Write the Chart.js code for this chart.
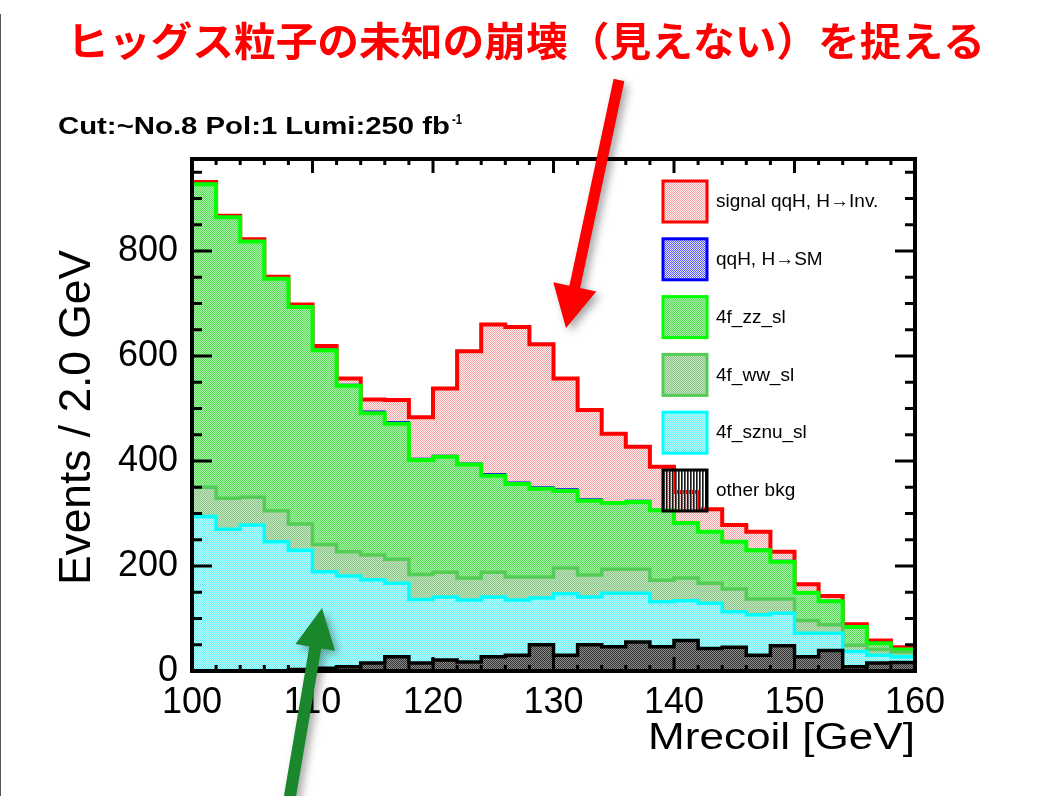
<!DOCTYPE html>
<html>
<head>
<meta charset="utf-8">
<title>Mrecoil</title>
<script src="https://cdn.jsdelivr.net/npm/chart.js@4/dist/chart.umd.min.js"></script>
<style>
  html, body { margin: 0; padding: 0; background: #fff; }
  #wrap { position: relative; width: 1046px; height: 796px; overflow: hidden; }
  #edge { position: absolute; left: 0; top: 14px; width: 1px; height: 782px; background: #555; }
</style>
</head>
<body>
<div id="wrap">
  <canvas id="recoilPlot" width="1046" height="796"></canvas>
  <div id="edge"></div>
</div>
<script>
// bin edges of the recoil mass histogram, 2 GeV per bin
const binEdges = [100, 102, 104, 106, 108, 110, 112, 114, 116, 118, 120, 122, 124, 126, 128, 130,
  132, 134, 136, 138, 140, 142, 144, 146, 148, 150, 152, 154, 156, 158, 160];

// events per bin, one array per sample (stacked bottom to top: other, sznu, ww, zz, SM, signal)
const otherBkg = [0, 0, 0, 0, 3, 5, 8, 15, 27, 15, 21, 17, 27, 30, 50, 30, 50, 46, 55, 46, 58, 43, 45, 30, 48, 27, 39, 8, 15, 16];
const sznuSl = [294, 270, 278, 246, 227, 184, 173, 159, 140, 121, 120, 118, 114, 105, 89, 117, 91, 102, 93, 86, 76, 86, 68, 77, 62, 45, 33, 29, 15, 11];
const wwSl = [56, 59, 53, 59, 50, 52, 46, 47, 46, 48, 47, 42, 47, 44, 40, 49, 42, 46, 46, 41, 43, 38, 43, 30, 27, 24, 16, 12, 11, 9];
const zzSl = [577, 535, 487, 442, 413, 370, 316, 270, 258, 218, 220, 216, 184, 177, 168, 147, 141, 126, 128, 133, 105, 98, 90, 93, 71, 53, 45, 35, 12, 5];
const higgsSM = [1, 1, 1, 1, 1, 1, 2, 3, 3, 2, 2, 2, 3, 3, 3, 3, 3, 2, 2, 1, 1, 1, 1, 1, 2, 1, 1, 1, 1, 1];
const signalInv = [3, 2, 3, 3, 4, 7, 12, 23, 42, 79, 128, 214, 285, 296, 272, 211, 170, 130, 103, 82, 58, 42, 31, 34, 17, 15, 9, 4, 4, 3];

const xTickValues = [100, 110, 120, 130, 140, 150, 160];
const yTickValues = [0, 200, 400, 600, 800];

const FONT = '"Liberation Sans", Arial, Helvetica, sans-serif';

const canvas = document.getElementById('recoilPlot');
const ctx = canvas.getContext('2d');

// pixel tiles to mimic ROOT's dotted fill styles: 'a' = ink, 'b' = paper, 'n' = see-through
const makePattern = (ink, paper, layout) => {
  const n = Math.round(Math.sqrt(layout.length));
  const c = document.createElement('canvas');
  c.width = c.height = n;
  const g = c.getContext('2d');
  layout.split('').forEach((ch, k) => {
    const col = ch === 'a' ? ink : ch === 'b' ? paper : null;
    if (!col) return;
    g.fillStyle = col;
    g.fillRect(k % n, Math.floor(k / n), 1, 1);
  });
  return ctx.createPattern(c, 'repeat');
};

const CHECK = 'abba';
const fills = {
  signal: makePattern('#f7a2a2', '#fff0f0', CHECK),
  sm: makePattern('#5a5aff', '#e4e4ff', CHECK),
  zz: makePattern('#5ad85a', '#aaf4aa', CHECK),
  ww: makePattern('#88c488', '#c6e6c2', CHECK),
  sznu: makePattern('#64f0f0', '#c4fdfd', CHECK),
  other: makePattern('#303030', '#8e8e8e', CHECK)
};
// the legend swatch of "other bkg" lets the histogram underneath show through
const otherSwatch = makePattern('#181818', '#6a6a6a', 'abnabnabn');

// histogram as a step line: the value of bin i holds from edge i to edge i+1
const steps = (values) => binEdges.map((x, i) => ({ x: x, y: values[Math.min(i, values.length - 1)] }));

const samples = [
  { label: 'other bkg', values: otherBkg, line: '#000000', width: 3.5, fill: fills.other, swatch: otherSwatch },
  { label: '4f_sznu_sl', values: sznuSl, line: '#00ffff', width: 3.5, fill: fills.sznu },
  { label: '4f_ww_sl', values: wwSl, line: '#55cc55', width: 3.5, fill: fills.ww },
  { label: '4f_zz_sl', values: zzSl, line: '#00ff00', width: 4, fill: fills.zz },
  { label: 'qqH, H\u2192SM', values: higgsSM, line: '#0000ff', width: 2, fill: fills.sm },
  { label: 'signal qqH, H\u2192Inv.', values: signalInv, line: '#ff0000', width: 4, fill: fills.signal }
];

function stretchText(c, text, x, y, font, width, align) {
  c.save();
  c.font = font;
  const w = c.measureText(text).width;
  c.translate(x, y);
  c.scale(width ? width / w : 1, 1);
  c.textAlign = align || 'left';
  c.fillText(text, 0, 0);
  c.restore();
}

function drawArrow(c, x0, y0, x1, y1, shaft, headW, headL, color) {
  const dx = x1 - x0, dy = y1 - y0, L = Math.hypot(dx, dy);
  const ux = dx / L, uy = dy / L, nx = -uy, ny = ux;
  const bx = x1 - ux * headL, by = y1 - uy * headL;
  c.save();
  c.shadowColor = 'rgba(0,0,0,0.35)';
  c.shadowBlur = 8;
  c.shadowOffsetX = 4;
  c.shadowOffsetY = 4;
  c.fillStyle = color;
  c.beginPath();
  c.moveTo(x0 + nx * shaft / 2, y0 + ny * shaft / 2);
  c.lineTo(bx + nx * shaft / 2, by + ny * shaft / 2);
  c.lineTo(bx + nx * headW / 2, by + ny * headW / 2);
  c.lineTo(x1, y1);
  c.lineTo(bx - nx * headW / 2, by - ny * headW / 2);
  c.lineTo(bx - nx * shaft / 2, by - ny * shaft / 2);
  c.lineTo(x0 - nx * shaft / 2, y0 - ny * shaft / 2);
  c.closePath();
  c.fill();
  c.restore();
}

const rootFrame = {
  id: 'rootFrame',
  afterDatasetsDraw(chart) {
    const c = chart.ctx, a = chart.chartArea;
    const xs = chart.scales.x, ys = chart.scales.y;

    // legend inside the frame, top entry first
    const legendOrder = samples.slice().reverse();
    legendOrder.forEach((s, i) => {
      const top = 181 + i * 57.8;
      c.save();
      c.fillStyle = s.swatch || s.fill;
      c.fillRect(663, top, 44, 41);
      c.lineWidth = 3;
      c.strokeStyle = s.line;
      c.strokeRect(663, top, 44, 41);
      c.fillStyle = '#000';
      c.font = '19px ' + FONT;
      c.textBaseline = 'middle';
      c.fillText(s.label, 716, top + 21);
      c.restore();
    });

    // frame and inward ticks on all four sides
    c.save();
    c.strokeStyle = '#000';
    c.lineWidth = 3;
    c.beginPath();
    for (let v = 100; v <= 160; v += 2) {
      const px = xs.getPixelForValue(v);
      const len = v % 10 === 0 ? 14 : 6;
      c.moveTo(px, a.bottom); c.lineTo(px, a.bottom - len);
      c.moveTo(px, a.top); c.lineTo(px, a.top + len);
    }
    for (let v = 0; v <= 975; v += 50) {
      const py = ys.getPixelForValue(v);
      const len = v % 200 === 0 ? 20 : 10;
      c.moveTo(a.left, py); c.lineTo(a.left + len, py);
      c.moveTo(a.right, py); c.lineTo(a.right - len, py);
    }
    c.stroke();
    c.lineWidth = 4;
    c.strokeRect(a.left, a.top, a.right - a.left, a.bottom - a.top);
    c.restore();
  },
  afterDraw(chart) {
    const c = chart.ctx;
    c.save();
    c.fillStyle = '#000';
    c.textBaseline = 'alphabetic';
    // run conditions above the frame
    stretchText(c, 'Cut:~No.8 Pol:1 Lumi:250 fb', 58, 134, 'bold 24px ' + FONT, 392, 'left');
    stretchText(c, '-1', 452, 124, 'bold 14px ' + FONT, 10, 'left');
    // axis titles
    stretchText(c, 'Mrecoil [GeV]', 915, 749, '36px ' + FONT, 267, 'right');
    c.save();
    c.translate(90, 585);
    c.rotate(-Math.PI / 2);
    stretchText(c, 'Events / 2.0 GeV', 0, 0, '45px ' + FONT, 335, 'left');
    c.restore();
    // headline
    c.fillStyle = '#ff0000';
    c.textBaseline = 'middle';
    stretchText(c, 'ヒッグス粒子の未知の崩壊（見えない）を捉える', 526, 41, 'bold 40px "Noto Sans CJK JP"', 918, 'center');
    c.restore();

    drawArrow(c, 619, 80, 566, 328, 11, 44, 42, '#ff0000');
    drawArrow(c, 289, 802, 322, 608, 12, 40, 40, '#1b872d');
  }
};

new Chart(canvas, {
  type: 'line',
  data: {
    datasets: samples.map((s) => ({
      label: s.label,
      data: steps(s.values),
      borderColor: s.line,
      borderWidth: s.width,
      backgroundColor: s.fill,
      fill: 'origin',
      stepped: 'before',
      pointRadius: 0,
      borderJoinStyle: 'miter',
      borderCapStyle: 'butt'
    }))
  },
  options: {
    responsive: false,
    animation: false,
    layout: { padding: { left: 0, top: 159, right: 131, bottom: 65 } },
    plugins: { legend: { display: false }, tooltip: { enabled: false } },
    elements: { line: { tension: 0 } },
    scales: {
      x: {
        type: 'linear',
        min: 100,
        max: 160,
        grid: { display: false, drawTicks: false },
        border: { display: false },
        afterFit: (s) => { s.height = 60; },
        afterBuildTicks: (s) => { s.ticks = xTickValues.map((v) => ({ value: v })); },
        ticks: { color: '#000', padding: 10, maxRotation: 0, autoSkip: false, font: { family: FONT, size: 36 } }
      },
      y: {
        stacked: true,
        min: 0,
        max: 975,
        grid: { display: false, drawTicks: false },
        border: { display: false },
        afterFit: (s) => { s.width = 192; },
        afterBuildTicks: (s) => { s.ticks = yTickValues.map((v) => ({ value: v })); },
        ticks: { color: '#000', padding: 14, font: { family: FONT, size: 36 } }
      }
    }
  },
  plugins: [rootFrame]
});
</script>
</body>
</html>
